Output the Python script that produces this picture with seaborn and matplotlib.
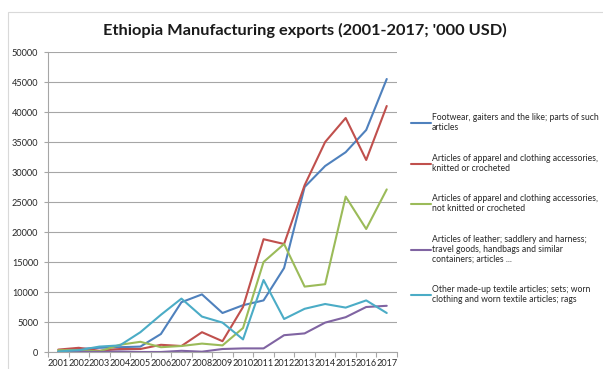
import matplotlib
matplotlib.use("Agg")
import matplotlib.pyplot as plt
import matplotlib.patches as mpatches
from matplotlib.ticker import MultipleLocator, FixedLocator
import seaborn as sns
import pandas as pd

years = list(range(2001, 2018))

footwear = [100, 500, 700, 800, 900, 3000, 8300, 9600, 6500, 7800, 8600, 14000, 27500, 31000, 33300, 37000, 45500]
apparel_knit = [400, 700, 200, 500, 500, 1200, 1000, 3300, 1800, 7500, 18800, 18000, 27800, 35000, 39000, 32000, 41000]
apparel_notknit = [300, 300, 100, 1200, 1700, 800, 1000, 1400, 1100, 4000, 15000, 18000, 10900, 11300, 25900, 20500, 27100]
leather = [0, 50, 0, 100, 0, 0, 200, 50, 500, 600, 600, 2800, 3100, 4900, 5800, 7500, 7700]
textile = [100, 300, 900, 1100, 3300, 6200, 8900, 5900, 4900, 2100, 12000, 5500, 7200, 8000, 7400, 8600, 6500]

series_names = [
    "Footwear, gaiters and the like; parts of such\narticles",
    "Articles of apparel and clothing accessories,\nknitted or crocheted",
    "Articles of apparel and clothing accessories,\nnot knitted or crocheted",
    "Articles of leather; saddlery and harness;\ntravel goods, handbags and similar\ncontainers; articles ...",
    "Other made-up textile articles; sets; worn\nclothing and worn textile articles; rags",
]
series_values = [footwear, apparel_knit, apparel_notknit, leather, textile]
colors = ["#4F81BD", "#C0504D", "#9BBB59", "#8064A2", "#4BACC6"]

title = "Ethiopia Manufacturing exports (2001-2017; '000 USD)"

rows = []
for name, vals in zip(series_names, series_values):
    for y, v in zip(years, vals):
        rows.append({"year": y, "value": v, "series": name})
df = pd.DataFrame(rows)

sns.set_theme(style="white")
plt.rcParams["font.family"] = ["Lato", "DejaVu Sans"]

fig = plt.figure(figsize=(6.03, 3.69), dpi=100)
W, H = 603, 369
ax = fig.add_axes([48 / W, 1 - 352 / H, (397 - 48) / W, (352 - 52) / H])

sns.lineplot(data=df, x="year", y="value", hue="series", palette=colors,
             linewidth=1.5, ax=ax, legend=False, hue_order=series_names)

ax.set_xlim(2000.5, 2017.5)
ax.set_ylim(0, 50000)
ax.yaxis.set_major_locator(MultipleLocator(5000))
ax.set_xticks(years)
ax.set_xticklabels([str(y) for y in years], fontsize=6.6, color="#262626")
ax.xaxis.set_minor_locator(FixedLocator([y + 0.5 for y in range(2000, 2018)]))
ax.tick_params(axis="x", which="major", length=0, pad=5)
ax.tick_params(axis="x", which="minor", length=3.5, width=0.8, color="#A6A6A6", direction="out", bottom=True)
ax.tick_params(axis="y", which="major", length=3, width=0.8, color="#A6A6A6", labelsize=6.6, labelcolor="#262626", pad=4, left=True)
ax.set_yticklabels([str(int(t)) for t in ax.get_yticks()])
ax.set_xlabel("")
ax.set_ylabel("")
ax.grid(axis="y", color="#A6A6A6", linewidth=0.8)
ax.set_axisbelow(True)
for s in ["top", "right"]:
    ax.spines[s].set_visible(False)
for s in ["left", "bottom"]:
    ax.spines[s].set_color("#A6A6A6")
    ax.spines[s].set_linewidth(0.8)

handles = ax.get_lines()[:5]
leg = ax.legend(handles=handles, labels=series_names, loc="upper left",
                bbox_to_anchor=(411 / W, 1 - 113 / H), bbox_transform=fig.transFigure,
                frameon=False, fontsize=6.2, handlelength=2.3, handletextpad=0.15,
                labelspacing=2.5, borderaxespad=0, borderpad=0)
for t in leg.get_texts():
    t.set_color("#262626")
    t.set_linespacing(1.15)

fig.text(305 / W, 1 - 30 / H, title, ha="center", va="center", fontsize=11.8,
         fontweight="bold", color="#1a1a1a")

fig.patches.append(mpatches.Rectangle((8 / W, -0.1), 1.2, 1 - 12 / H + 0.1, transform=fig.transFigure,
                                      fill=False, edgecolor="#D9D9D9", linewidth=0.8))

fig.savefig("out.png", dpi=100)
